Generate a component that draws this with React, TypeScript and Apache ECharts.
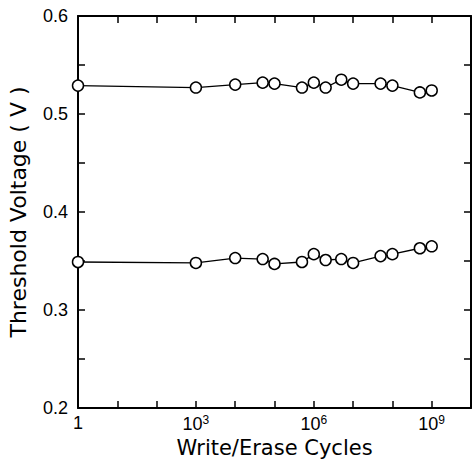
import React, { useEffect, useRef } from "react";
import * as echarts from "echarts";

const cycles = [1, 1e3, 1e4, 5e4, 1e5, 5e5, 1e6, 2e6, 5e6, 1e7, 5e7, 1e8, 5e8, 1e9];
const upperVt = [0.529, 0.527, 0.530, 0.532, 0.531, 0.527, 0.532, 0.527, 0.535, 0.531, 0.531, 0.529, 0.522, 0.524];
const lowerVt = [0.349, 0.348, 0.353, 0.352, 0.347, 0.349, 0.357, 0.351, 0.352, 0.348, 0.355, 0.357, 0.363, 0.365];
const xLabelExps = [0, 3, 6, 9];
const yLabels = [0.2, 0.3, 0.4, 0.5, 0.6];

const FONT = "DejaVu Sans";
const TICKFONT = "Liberation Sans";

export default function App() {
  const ref = useRef<HTMLDivElement>(null);
  useEffect(() => {
    if (!ref.current) return;
    const chart = echarts.init(ref.current, null, { renderer: "svg" });
    const xFmt = (v: number) => {
      const e = Math.round(Math.log10(v));
      if (!xLabelExps.includes(e)) return "";
      if (e === 0) return "1";
      return `10{sup|${e}}`;
    };
    const yFmt = (v: number) => {
      const hit = yLabels.find((l) => Math.abs(l - v) < 1e-6);
      return hit !== undefined ? hit.toFixed(1) : "";
    };
    const axisLine = { show: true, lineStyle: { color: "#000", width: 2 } };
    const tick = { show: true, inside: true, length: 7, lineStyle: { color: "#000", width: 1.5 } };
    const series = (vals: number[]) => ({
      type: "line",
      data: cycles.map((c, i) => [c, vals[i]]),
      symbol: "circle",
      symbolSize: 11,
      showAllSymbol: true,
      lineStyle: { color: "#000", width: 1.3 },
      itemStyle: { color: "#fff", borderColor: "#000", borderWidth: 1.5 },
      clip: true,
    });
    chart.setOption({
      animation: false,
      grid: { left: 78, right: 3, top: 16, bottom: 54, containLabel: false, outerBoundsMode: "none" },
      xAxis: [
        {
          type: "log",
          logBase: 10,
          min: 1,
          max: 1e10,
          interval: 1,
          axisLine,
          axisTick: tick,
          splitLine: { show: false },
          axisLabel: {
            formatter: xFmt,
            color: "#000",
            fontFamily: TICKFONT,
            fontSize: 18,
            margin: 6,
            rich: {
              sup: { fontSize: 12, fontFamily: TICKFONT, color: "#000", verticalAlign: "top", padding: [0, 0, 8, 0] },
            },
          },
          name: "Write/Erase Cycles",
          nameLocation: "middle",
          nameGap: 30,
          nameTextStyle: { color: "#000", fontFamily: FONT, fontSize: 21, lineHeight: 20 },
        },
        {
          type: "log",
          logBase: 10,
          min: 1,
          max: 1e10,
          interval: 1,
          position: "top",
          axisLine,
          axisTick: tick,
          axisLabel: { show: false },
          splitLine: { show: false },
        },
      ],
      yAxis: [
        {
          type: "value",
          min: 0.2,
          max: 0.6,
          interval: 0.05,
          axisLine,
          axisTick: tick,
          splitLine: { show: false },
          axisLabel: { formatter: yFmt, color: "#000", fontFamily: TICKFONT, fontSize: 18, margin: 10 },
          name: "Threshold Voltage ( V )",
          nameLocation: "middle",
          nameGap: 49,
          nameTextStyle: { color: "#000", fontFamily: FONT, fontSize: 22 },
        },
        {
          type: "value",
          min: 0.2,
          max: 0.6,
          interval: 0.05,
          position: "right",
          axisLine,
          axisTick: tick,
          axisLabel: { show: false },
          splitLine: { show: false },
        },
      ],
      series: [series(upperVt), series(lowerVt)],
    });
    return () => chart.dispose();
  }, []);
  return <div ref={ref} style={{ width: 474, height: 462, position: "absolute", left: 0, top: 0 }} />;
}
